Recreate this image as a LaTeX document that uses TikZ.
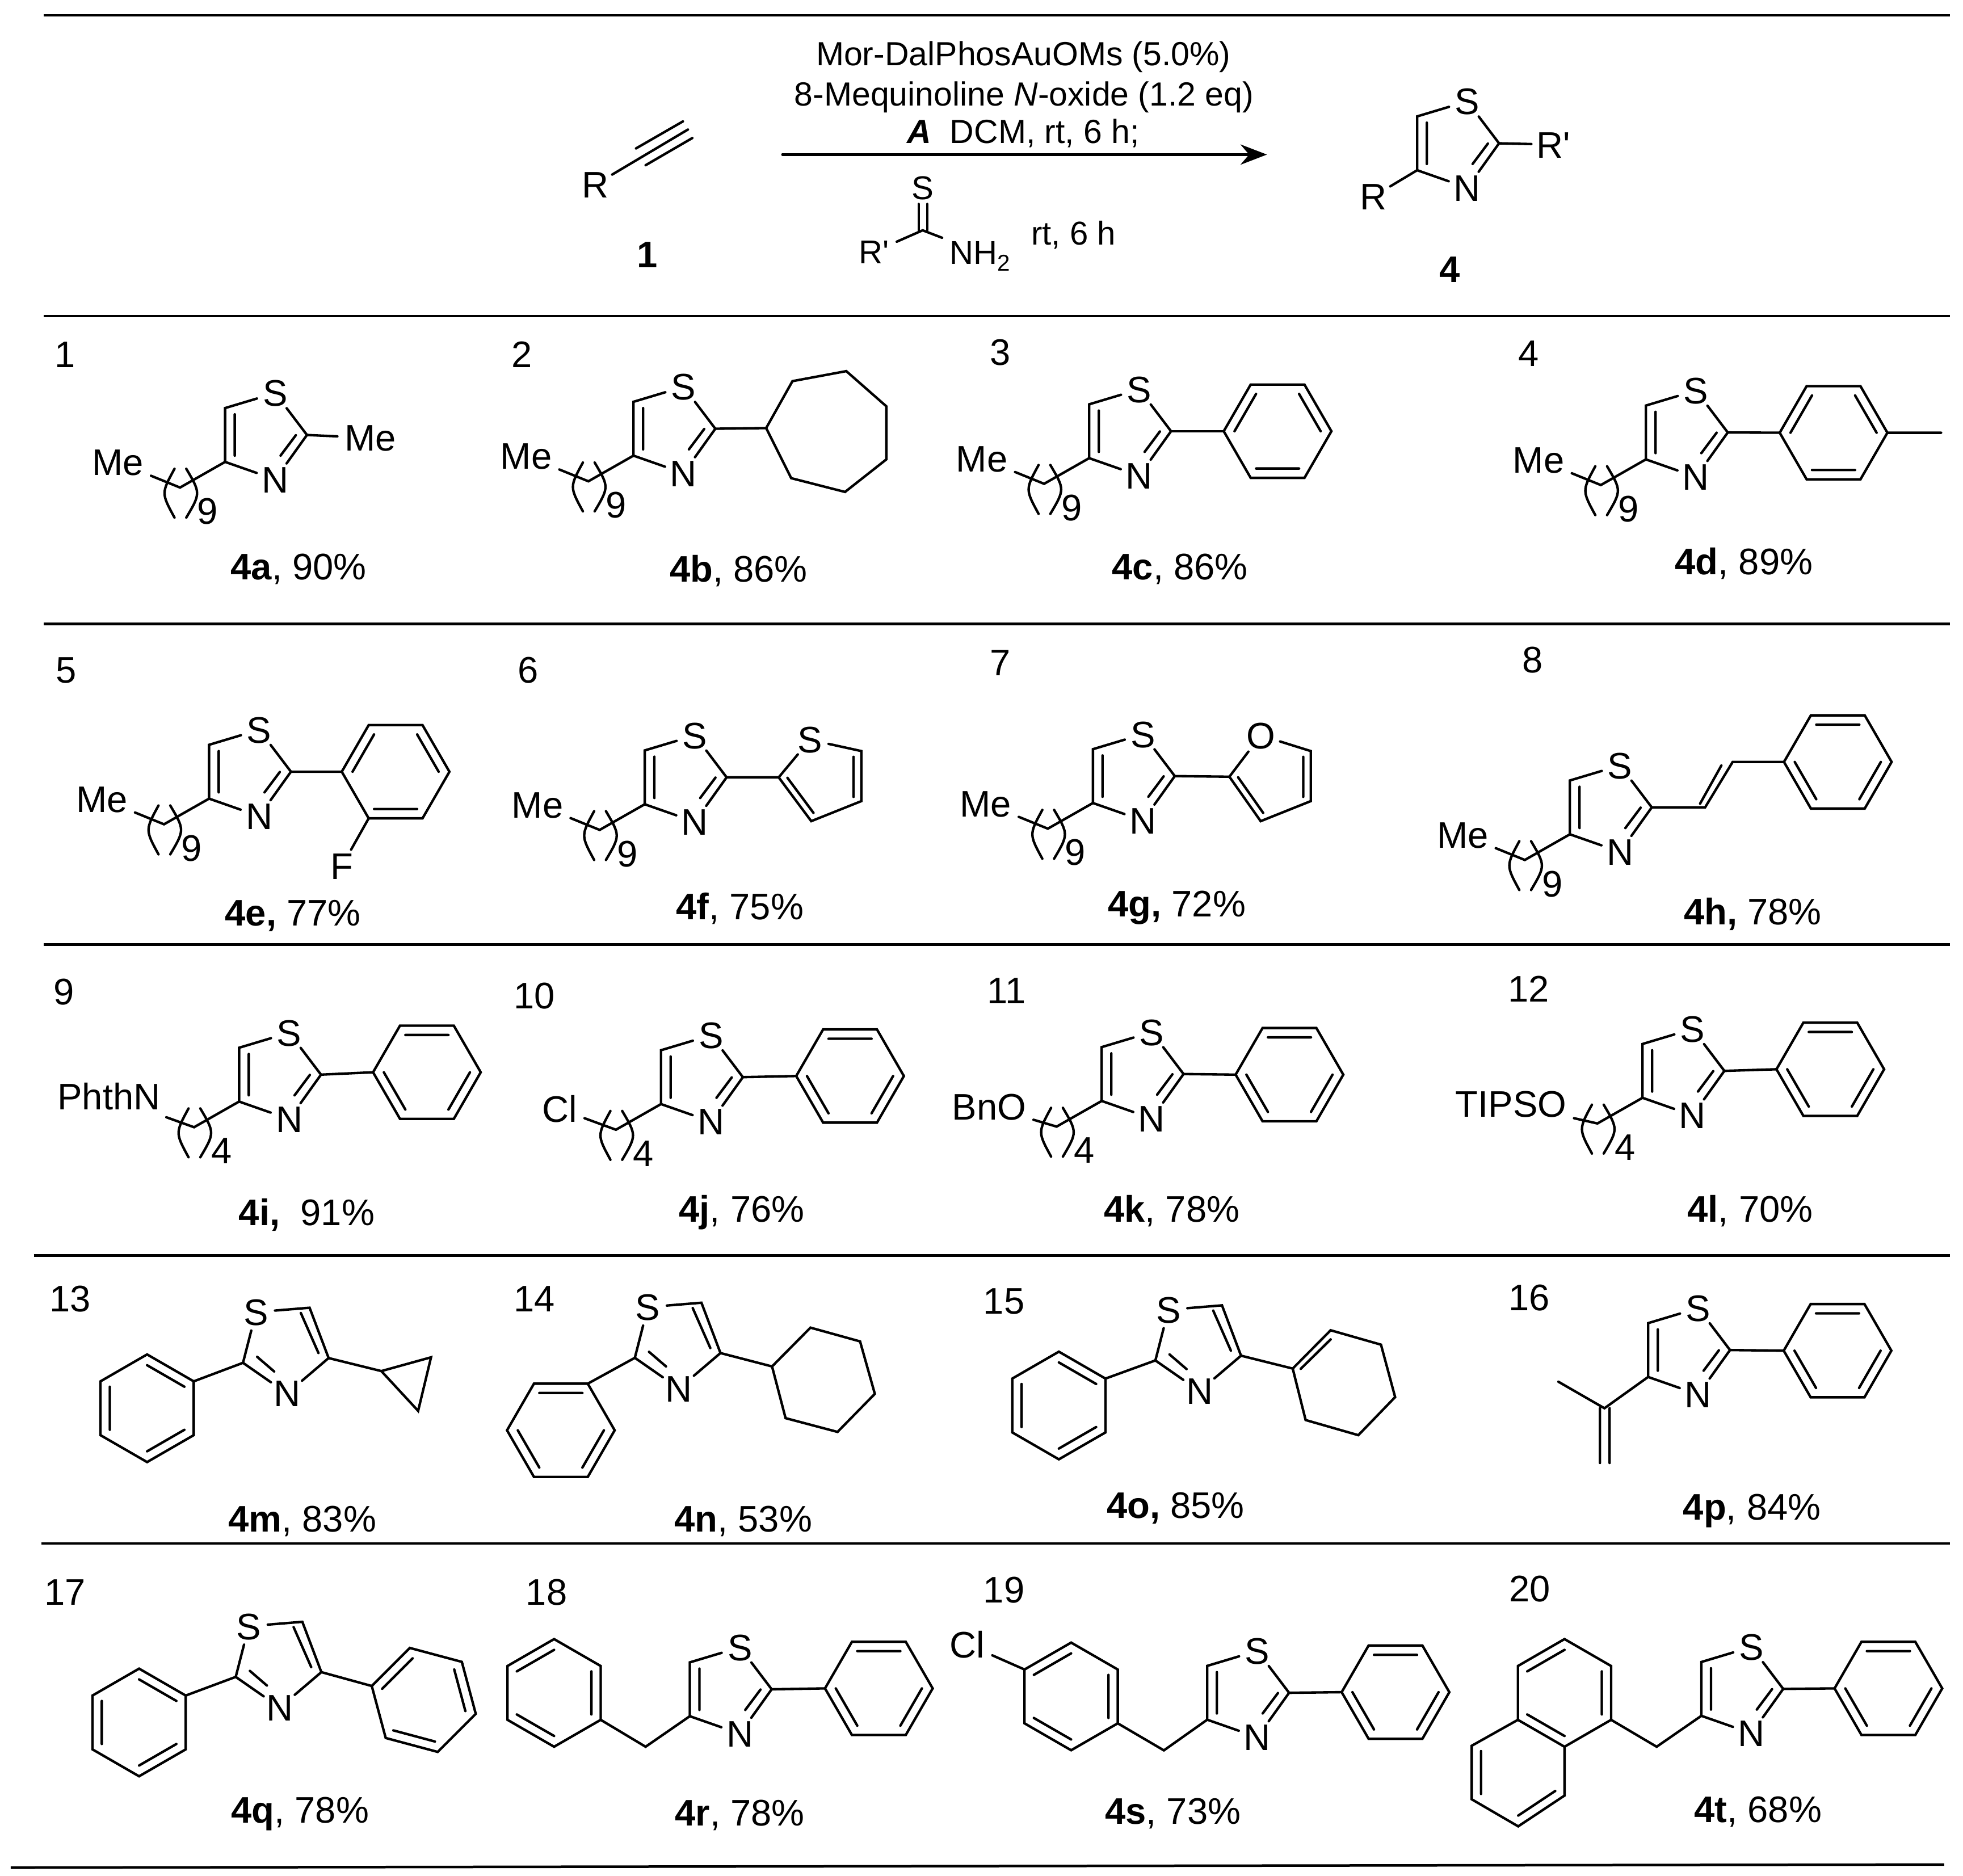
\documentclass[tikz,border=0pt]{standalone}
\usepackage{fontspec}
\setmainfont{Liberation Sans}
\usetikzlibrary{calc,arrows.meta}
\newcommand\mainsz{\fontsize{8.4}{10}\selectfont}
\newcommand\reagsz{\fontsize{7.6}{9}\selectfont}
\newcommand\smallsz{\fontsize{7.5}{9}\selectfont}
\tikzset{
 bond/.style={line width=.56pt,line cap=round,line join=miter},
 rulei/.style={line width=.58pt},
 atom/.style={circle,inner sep=0pt,minimum size=2.9mm,font=\mainsz,text height=6pt,text depth=0pt},
 grp/.style={rectangle,inner sep=1.5pt,font=\mainsz,text height=6pt,text depth=0pt},
 txt/.style={inner sep=0pt,font=\mainsz,text height=6pt,text depth=0pt},
 reag/.style={inner sep=0pt,font=\reagsz,text height=5.4pt,text depth=0pt},
 smallatom/.style={inner sep=1.5pt,font=\smallsz,text height=5.4pt,text depth=0pt},
}
% thiazole with S on top
\newcommand\thz[3]{%
 \node[atom] (#1S) at (#2,#3) {S};
 \node[atom] (#1N) at (#2,#3+69) {N};
 \coordinate (#1c5) at (#2-40,#3+12);
 \coordinate (#1c4) at (#2-40,#3+55);
 \coordinate (#1c2) at (#2+25.4,#3+33.5);
 \coordinate (#1i5) at (#2-32.3,#3+17);
 \coordinate (#1i4) at (#2-32.3,#3+50);
 \coordinate (#1i2) at (#2+16.5,#3+33.7);
 \coordinate (#1iN) at (#2+4.3,#3+50);
 \draw[bond] (#1S)--(#1c5)--(#1c4)--(#1N) (#1S)--(#1c2)--(#1N) (#1i5)--(#1i4) (#1i2)--(#1iN);
}
% thiazole turned over, S on the left
\newcommand\thzb[3]{%
 \node[atom] (#1S) at (#2,#3) {S};
 \node[atom] (#1N) at (#2+24.8,#3+65) {N};
 \coordinate (#1c5) at (#2+42.8,#3-3.5);
 \coordinate (#1c4) at (#2+58,#3+36.7);
 \coordinate (#1c2) at (#2-10.4,#3+40.5);
 \coordinate (#1i5) at (#2+35.8,#3+0.7);
 \coordinate (#1i4) at (#2+49.9,#3+32.7);
 \coordinate (#1i2) at (#2+0.9,#3+35.7);
 \coordinate (#1iN) at (#2+14.5,#3+47.4);
 \draw[bond] (#1S)--(#1c5)--(#1c4)--(#1N) (#1S)--(#1c2)--(#1N) (#1i5)--(#1i4) (#1i2)--(#1iN);
}
% benzene ring: prefix, centre, angle of first vertex; edges 1-2, 3-4, 5-6 are double
\newcommand\phen[4]{%
 \coordinate (#1c) at (#2,#3);
 \foreach \k in {1,...,6}{%
  \pgfmathsetmacro\ang{#4-60*(\k-1)}
  \coordinate (#1\k) at ({#2+43*cos(\ang)},{#3-43*sin(\ang)});
 }
 \draw[bond] (#11)--(#12)--(#13)--(#14)--(#15)--(#16)--cycle;
 \draw[bond] ($(#11)!.2!(#1c)$)--($(#12)!.2!(#1c)$)
             ($(#13)!.2!(#1c)$)--($(#14)!.2!(#1c)$)
             ($(#15)!.2!(#1c)$)--($(#16)!.2!(#1c)$);
}
% chain with repeat brackets: prefix (of thiazole), group node, digit
\newcommand\chain[3]{%
 \coordinate (#1v) at ($(#1S)+(-76,75.5)$);
 \node[txt] (#1n) at ($(#1v)+(22,18.7)$) {#3};
 \draw[bond] (#1c4)--(#1v)--(#2);
 \draw[bond] ($(#1v)+(-4.4,-15)$) .. controls ($(#1v)+(-15,4.5)$) .. ($(#1v)+(-4.4,24)$);
 \draw[bond] ($(#1v)+(5,-15)$) .. controls ($(#1v)+(16.5,4.5)$) .. ($(#1v)+(5,24)$);
}
\newcommand\me[1]{\node[grp] (#1Me) at ($(#1S)+(-125.7,55.3)$) {Me};}
\newcommand\pr{R\textquotesingle}
\begin{document}
\begin{tikzpicture}[x=0.01cm,y=-0.01cm]
\useasboundingbox (0,0) rectangle (1568,1498.6);
% rules
\draw[rulei] (35,12.3)--(1557.6,12.3);
\draw[rulei] (35,252.5)--(1557.6,252.5);
\draw[rulei] (35,498.5)--(1557.6,498.5);
\draw[rulei] (35,754.5)--(1557.6,754.5);
\draw[rulei] (27,1003)--(1557.6,1003);
\draw[rulei] (33,1233)--(1557.6,1233);
\draw[rulei] (8.6,1492)--(1553,1489.5);
% header
\node[atom] (hR) at (475.5,147.5) {R};
\coordinate (hA) at (549.5,103.5);
\coordinate (hU1) at (508,118.6);
\coordinate (hU2) at (545.5,97);
\coordinate (hL1) at (515.7,132);
\coordinate (hL2) at (553,110.3);
\draw[bond] (hR)--(hA) (hU1)--(hU2) (hL1)--(hL2);
\node[txt] (h1) at (517,203) {\textbf{1}};
\node[reag] (r1) at (817.5,43) {Mor-DalPhosAuOMs (5.0\%)};
\node[reag] (r2) at (818,75) {8-Mequinoline \textit{N}-oxide (1.2 eq)};
\node[reag] (r3) at (817.5,105) {\textbf{\textit{A}}\ \ DCM, rt, 6 h;};
\coordinate (arS) at (625,123.5);
\coordinate (arE) at (1012,123.5);
\draw[bond,-{Stealth[length=6pt,width=4.6pt]}] (arS)--(arE);
\node[atom,font=\smallsz,text height=5.4pt] (tS) at (737,150) {S};
\coordinate (tC) at (737,184);
\coordinate (tD1) at (733.8,163);
\coordinate (tD2) at (733.8,184);
\coordinate (tD3) at (740.6,163);
\coordinate (tD4) at (740.6,184);
\node[smallatom] (tR) at (698.3,201) {\pr};
\node[smallatom,anchor=west] (tN) at (752.5,201.5) {NH\raisebox{-1.5pt}{\fontsize{5.2}{6}\selectfont 2}};
\draw[bond] (tD1)--(tD2) (tD3)--(tD4);
\draw[bond] (tR)--(tC)--(tN);
\node[reag,font=\smallsz] (r4) at (857.5,186) {rt, 6 h};
\thz{p}{1172}{81}
\node[atom] (pR) at (1097,157) {R};
\node[atom] (pRp) at (1241,115.5) {\pr};
\draw[bond] (pc2)--(pRp) (pc4)--(pR);
\node[txt] (p4) at (1158,215) {\textbf{4}};
% 1
\node[txt] (n1) at (52,283) {1};
\thz{a}{219.8}{314}\me{a}\chain{a}{aMe}{9}
\node[grp] (aMe2) at (296,349.8) {Me};
\draw[bond] (ac2)--(aMe2);
\node[txt] (l1) at (238.5,452.3) {\textbf{4a}, 90\%};
% 2
\node[txt] (n2) at (417,283) {2};
\thz{b}{546}{309}\me{b}\chain{b}{bMe}{9}
\coordinate (bh1) at (612,342);
\coordinate (bh2) at (633,304.5);
\coordinate (bh3) at (676,296.5);
\coordinate (bh4) at (708,324.6);
\coordinate (bh5) at (708,367);
\coordinate (bh6) at (675,393);
\coordinate (bh7) at (632,382);
\draw[bond] (bh1)--(bh2)--(bh3)--(bh4)--(bh5)--(bh6)--(bh7)--cycle (bc2)--(bh1);
\node[txt] (l2) at (590,454.5) {\textbf{4b}, 86\%};
% 3
\node[txt] (n3) at (799,281) {3};
\thz{c}{910}{311}\me{c}\chain{c}{cMe}{9}
\phen{ch}{1020.5}{344.5}{180}
\draw[bond] (cc2)--(ch1);
\node[txt] (l3) at (942.5,452.5) {\textbf{4c}, 86\%};
% 4
\node[txt] (n4) at (1221,282) {4};
\thz{d}{1354.7}{312}\me{d}\chain{d}{dMe}{9}
\phen{dh}{1464.6}{345.7}{180}
\coordinate (dM) at (1550.5,345.7);
\draw[bond] (dc2)--(dh1) (dh4)--(dM);
\node[txt] (l4) at (1393,448.5) {\textbf{4d}, 89\%};
% 5
\node[txt] (n5) at (53,535) {5};
\thz{e}{207}{583}\me{e}\chain{e}{eMe}{9}
\phen{eh}{316}{616.5}{180}
\node[atom] (eF) at (273,692) {F};
\draw[bond] (ec2)--(eh1) (eh6)--(eF);
\node[txt] (l5) at (234,729) {\textbf{4e,} 77\%};
% 6
\node[txt] (n6) at (422,535) {6};
\thz{f}{555}{587.5}\me{f}\chain{f}{fMe}{9}
\coordinate (fi) at (622,621);
\node[atom] (fS2) at (647,591) {S};
\coordinate (fb) at (688,600);
\coordinate (fc) at (688,640);
\coordinate (fd) at (648,656);
\coordinate (fm) at (657,623);
\draw[bond] (fc2)--(fi)--(fS2)--(fb)--(fc)--(fd)--(fi);
\draw[bond] ($(fb)!.2!(fm)$)--($(fc)!.2!(fm)$) ($(fd)!.2!(fm)$)--($(fi)!.2!(fm)$);
\node[txt] (l6) at (591,724) {\textbf{4f}, 75\%};
% 7
\node[txt] (n7) at (799,529) {7};
\thz{g}{913}{586.5}\me{g}\chain{g}{gMe}{9}
\coordinate (gi) at (982,620.5);
\node[atom] (gO) at (1007,587.5) {O};
\coordinate (gb) at (1047,600);
\coordinate (gc) at (1047,640);
\coordinate (gd) at (1007,656);
\coordinate (gm) at (1017,623);
\draw[bond] (gc2)--(gi)--(gO)--(gb)--(gc)--(gd)--(gi);
\draw[bond] ($(gb)!.2!(gm)$)--($(gc)!.2!(gm)$) ($(gd)!.2!(gm)$)--($(gi)!.2!(gm)$);
\node[txt] (l7) at (940,722) {\textbf{4g,} 72\%};
% 8
\node[txt] (n8) at (1224,527) {8};
\thz{h}{1294}{611.5}\me{h}\chain{h}{hMe}{9}
\coordinate (hv1) at (1362,645);
\coordinate (hv2) at (1384,608.7);
\coordinate (hw1) at (1358,642);
\coordinate (hw2) at (1375,611.5);
\phen{hh}{1468}{608.7}{120}
\draw[bond] (hc2)--(hv1)--(hv2)--(hh6) (hw1)--(hw2);
\node[txt] (l8) at (1400,728) {\textbf{4h,} 78\%};
% 9
\node[txt] (n9) at (51,792) {9};
\thz{i}{231}{825}
\node[grp] (iG) at (87,876) {PhthN};
\chain{i}{iG}{4}
\phen{ih}{341}{856.6}{120}
\draw[bond] (ic2)--(ih6);
\node[txt] (l9) at (245,968.5) {\textbf{4i,}\ \ 91\%};
% 10
\node[txt] (n10) at (427,795) {10};
\thz{j}{568}{827}
\node[grp] (jG) at (447,886) {Cl};
\chain{j}{jG}{4}
\phen{jh}{679}{859.6}{120}
\draw[bond] (jc2)--(jh6);
\node[txt] (l10) at (592.5,965.5) {\textbf{4j}, 76\%};
% 11
\node[txt] (n11) at (804,791) {11};
\thz{k}{920}{824.5}
\node[grp] (kG) at (790,884) {BnO};
\chain{k}{kG}{4}
\phen{kh}{1030}{858.5}{120}
\draw[bond] (kc2)--(kh6);
\node[txt] (l11) at (936,965.5) {\textbf{4k}, 78\%};
% 12
\node[txt] (n12) at (1221,790) {12};
\thz{l}{1352}{822}
\node[grp] (lG) at (1207,882) {TIPSO};
\chain{l}{lG}{4}
\phen{lh}{1462}{854.2}{120}
\draw[bond] (lc2)--(lh6);
\node[txt] (l12) at (1398,965.5) {\textbf{4l}, 70\%};
% 13
\node[txt] (n13) at (56,1037.5) {13};
\thzb{m}{204.5}{1048.2}
\phen{mh}{117.5}{1125}{90}
\coordinate (my1) at (304.6,1095.3);
\coordinate (my2) at (344.3,1084.3);
\coordinate (my3) at (334,1127.1);
\draw[bond] (mc2)--(mh2) (mc4)--(my1);
\draw[bond] (my1)--(my2)--(my3)--cycle;
\node[txt] (l13) at (241.5,1213) {\textbf{4m}, 83\%};
% 14
\node[txt] (n14) at (427,1037.5) {14};
\thzb{n}{517.5}{1044.2}
\phen{nh}{448}{1142.6}{120}
\coordinate (ny1) at (616.7,1091.6);
\coordinate (ny2) at (647.4,1060.6);
\coordinate (ny3) at (687,1071.6);
\coordinate (ny4) at (698.8,1113.5);
\coordinate (ny5) at (669,1143.9);
\coordinate (ny6) at (627.5,1132.9);
\draw[bond] (nc2)--(nh2) (nc4)--(ny1);
\draw[bond] (ny1)--(ny2)--(ny3)--(ny4)--(ny5)--(ny6)--cycle;
\node[txt] (l14) at (593.7,1213) {\textbf{4n}, 53\%};
% 15
\node[txt] (n15) at (802,1039) {15};
\thzb{o}{933.3}{1046.3}
\phen{oh}{845.8}{1122.8}{90}
\coordinate (oy1) at (1032.6,1093.3);
\coordinate (oy2) at (1062.9,1062.7);
\coordinate (oy3) at (1103.1,1074.2);
\coordinate (oy4) at (1114.4,1116.1);
\coordinate (oy5) at (1085,1146.5);
\coordinate (oy6) at (1042.9,1134.4);
\coordinate (oyi1) at (1039,1093.5);
\coordinate (oyi2) at (1062.9,1070);
\draw[bond] (oc2)--(oh2) (oc4)--(oy1);
\draw[bond] (oy1)--(oy2)--(oy3)--(oy4)--(oy5)--(oy6)--cycle (oyi1)--(oyi2);
\node[txt] (l15) at (939,1202.3) {\textbf{4o,} 85\%};
% 16
\node[txt] (n16) at (1221.4,1036.6) {16};
\thz{q}{1356.5}{1045}
\phen{qh}{1467.8}{1079}{120}
\coordinate (qv) at (1281.6,1125);
\coordinate (qm) at (1244.8,1103.8);
\coordinate (qe1) at (1278,1125);
\coordinate (qe2) at (1278,1168.7);
\coordinate (qe3) at (1285.7,1125);
\coordinate (qe4) at (1285.7,1168.7);
\draw[bond] (qc2)--(qh6) (qc4)--(qv)--(qm) (qe1)--(qe2) (qe3)--(qe4);
\node[txt] (l16) at (1399.5,1203.7) {\textbf{4p}, 84\%};
% 17
\node[txt] (n17) at (52,1271.7) {17};
\thzb{r}{198.7}{1299.1}
\phen{rh}{111.1}{1376}{90}
\phen{rk}{338.5}{1358}{165}
\draw[bond] (rc2)--(rh2) (rc4)--(rk1);
\node[txt] (l17) at (239.7,1445.7) {\textbf{4q}, 78\%};
% 18
\node[txt] (n18) at (436.6,1271.7) {18};
\thz{s}{591}{1316}
\phen{sh}{702}{1348.8}{120}
\phen{sk}{442.6}{1352.4}{150}
\coordinate (sv) at (515.7,1395.4);
\draw[bond] (sc2)--(sh6) (sk4)--(sv)--(sc4);
\node[txt] (l18) at (591,1448) {\textbf{4r}, 78\%};
% 19
\node[txt] (n19) at (802,1269.7) {19};
\thz{t}{1004.3}{1318.8}
\phen{th}{1114.7}{1351.8}{120}
\phen{tk}{855.6}{1355.2}{150}
\coordinate (tv) at (929.7,1398.3);
\node[grp] (tCl) at (772.7,1313.6) {Cl};
\draw[bond] (tc2)--(th6) (tk4)--(tv)--(tc4) (tk1)--(tCl);
\node[txt] (l19) at (936.9,1446.6) {\textbf{4s}, 73\%};
% 20
\node[txt] (n20) at (1222,1268.8) {20};
\thz{u}{1399}{1315.7}
\phen{uh}{1508.4}{1348.8}{120}
\phen{uk}{1249.7}{1352.4}{150}
\coordinate (uv) at (1323.3,1395.4);
\coordinate (ub1) at (1249.7,1434.4);
\coordinate (ub2) at (1212.7,1459);
\coordinate (ub3) at (1175.6,1437.4);
\coordinate (ub4) at (1175.6,1394.6);
\coordinate (ubc) at (1212.7,1416);
\draw[bond] (uc2)--(uh6) (uk4)--(uv)--(uc4);
\draw[bond] (uk5)--(ub1)--(ub2)--(ub3)--(ub4)--(uk6);
\draw[bond] ($(ub1)!.2!(ubc)$)--($(ub2)!.2!(ubc)$) ($(ub3)!.2!(ubc)$)--($(ub4)!.2!(ubc)$);
\node[txt] (l20) at (1404.3,1445.2) {\textbf{4t}, 68\%};
\end{tikzpicture}
\end{document}
